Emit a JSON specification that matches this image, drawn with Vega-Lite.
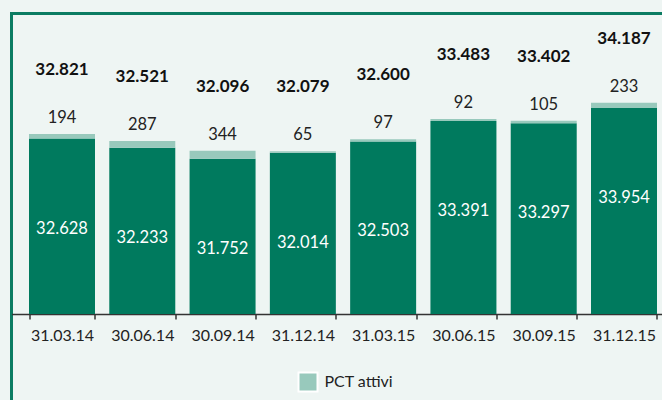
{
  "$schema": "https://vega.github.io/schema/vega-lite/v6.json",
  "width": 663,
  "height": 400,
  "autosize": "none",
  "padding": {"left": 11.5, "top": 13.5, "right": 0, "bottom": 0},
  "background": "#EEF5F3",
  "config": {
    "view": {"stroke": "#0B7C62", "strokeWidth": 3, "fill": "#EEF5F3"},
    "font": "Lato",
    "locale": {"number": {"decimal": ",", "thousands": ".", "grouping": [3], "currency": ["€", ""]}}
  },
  "data": {
    "values": [
      {"date": "31.03.14", "base": 32628, "pct": 194, "total": 32821},
      {"date": "30.06.14", "base": 32233, "pct": 287, "total": 32521},
      {"date": "30.09.14", "base": 31752, "pct": 344, "total": 32096},
      {"date": "31.12.14", "base": 32014, "pct": 65, "total": 32079},
      {"date": "31.03.15", "base": 32503, "pct": 97, "total": 32600},
      {"date": "30.06.15", "base": 33391, "pct": 92, "total": 33483},
      {"date": "30.09.15", "base": 33297, "pct": 105, "total": 33402},
      {"date": "31.12.15", "base": 33954, "pct": 233, "total": 34187}
    ]
  },
  "encoding": {
    "x": {
      "field": "date",
      "type": "ordinal",
      "sort": null,
      "scale": {"paddingInner": 0.178, "paddingOuter": 0.218},
      "axis": {
        "title": null,
        "labelAngle": 0,
        "tickBand": "extent",
        "offset": -99.5,
        "labelFont": "Lato",
        "labelFontSize": 16,
        "labelColor": "#222222",
        "labelPadding": 8,
        "domainColor": "#333333",
        "domainWidth": 1.5,
        "tickColor": "#333333",
        "tickWidth": 1.5,
        "tickSize": 5
      }
    }
  },
  "layer": [
    {
      "mark": {"type": "bar", "color": "#007A5E", "clip": true},
      "encoding": {
        "y": {"field": "base", "type": "quantitative", "scale": {"domain": [20674, 38065], "zero": false, "nice": false}, "axis": null},
        "y2": {"datum": 25000}
      }
    },
    {
      "mark": {"type": "bar", "clip": true},
      "encoding": {
        "y": {"field": "total", "type": "quantitative"},
        "y2": {"field": "base"},
        "color": {
          "datum": "PCT attivi",
          "scale": {"range": ["#98C9BC"]},
          "legend": {
            "title": null,
            "orient": "none",
            "legendX": 286,
            "legendY": 358,
            "padding": 0,
            "symbolType": "square",
            "symbolSize": 361,
            "symbolStrokeColor": "white",
            "symbolStrokeWidth": 2,
            "symbolOpacity": 1,
            "labelFont": "Lato",
            "labelFontSize": 16,
            "labelColor": "#222222",
            "labelOffset": 6
          }
        }
      }
    },
    {
      "mark": {"type": "text", "color": "white", "fontSize": 16.5, "font": "Lato", "baseline": "middle", "dy": 90},
      "encoding": {
        "y": {"field": "base", "type": "quantitative"},
        "text": {"field": "base", "type": "quantitative", "format": ",d"}
      }
    },
    {
      "mark": {"type": "text", "color": "#222222", "fontSize": 16.5, "font": "Lato", "baseline": "middle", "dy": -16},
      "encoding": {
        "y": {"field": "total", "type": "quantitative"},
        "text": {"field": "pct", "type": "quantitative", "format": ",d"}
      }
    },
    {
      "mark": {"type": "text", "color": "#111111", "fontSize": 17, "font": "Lato", "fontWeight": "bold", "baseline": "middle", "dy": -64},
      "encoding": {
        "y": {"field": "total", "type": "quantitative"},
        "text": {"field": "total", "type": "quantitative", "format": ",d"}
      }
    }
  ]
}
